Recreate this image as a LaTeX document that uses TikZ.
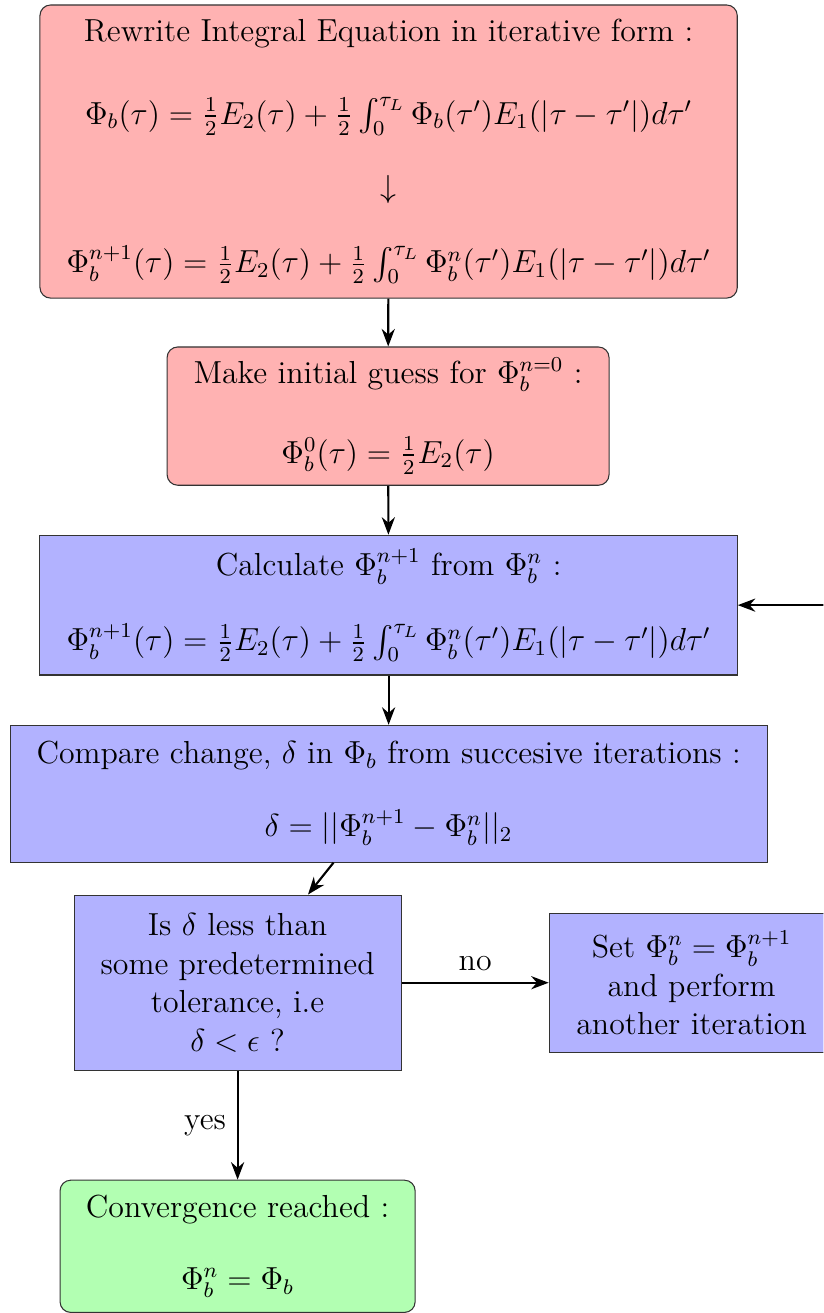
\documentclass[tikz,border=0pt,12pt]{standalone}
\usepackage{amsmath}
\usepackage{amssymb}
\usepackage{tikz}
\usetikzlibrary{arrows.meta, positioning, calc}

\begin{document}
\begin{tikzpicture}[
      roundbox/.style={rectangle, rounded corners, draw=black!80, fill=red!30,
                   align=center, inner sep=2pt},
      procbox/.style={rectangle, draw=black!80, fill=blue!30, align=center, inner sep=2pt},
      endbox/.style={rectangle, rounded corners, draw=black!80, fill=green!30,
                   align=center, inner sep=2pt},
      arrow/.style={-{Stealth}, thick}
    ]
    \useasboundingbox (0,0) rectangle (10.90,-17.38);
    \clip (0,0) rectangle (10.90,-17.38);

    \node[roundbox, minimum width=9.23cm, minimum height=3.88cm] (rewrite) at (5.144,-2.006)
      {Rewrite Integral Equation in iterative form :\\[16.5pt]
       $\Phi_b(\tau) = \frac{1}{2}E_2(\tau) + \frac{1}{2}\int_0^{\tau_L}\Phi_b(\tau')E_1(|\tau-\tau'|)d\tau'$\\[13.2pt]
       $\downarrow$\\[13.8pt]
       $\Phi_b^{n+1}(\tau) = \frac{1}{2}E_2(\tau) + \frac{1}{2}\int_0^{\tau_L}\Phi_b^n(\tau')E_1(|\tau-\tau'|)d\tau'$};
    \node[roundbox, minimum width=5.85cm, minimum height=1.83cm] (guess) at (5.137,-5.508)
      {Make initial guess for $\Phi_b^{n=0}$ :\\[15.5pt]
       $\Phi_b^0(\tau) = \frac{1}{2}E_2(\tau)$};
    \node[procbox, minimum width=9.23cm, minimum height=1.85cm] (calc) at (5.144,-8.010)
      {Calculate $\Phi_b^{n+1}$ from $\Phi_b^n$ :\\[14pt]
       $\Phi_b^{n+1}(\tau) = \frac{1}{2}E_2(\tau) + \frac{1}{2}\int_0^{\tau_L}\Phi_b^n(\tau')E_1(|\tau-\tau'|)d\tau'$};
    \node[procbox, minimum width=10.02cm, minimum height=1.81cm] (compare) at (5.144,-10.506)
      {Compare change, $\delta$ in $\Phi_b$ from succesive iterations :\\[13pt]
       $\delta = ||\Phi_b^{n+1} - \Phi_b^n||_2$};
    \node[procbox, minimum width=4.33cm, minimum height=2.32cm] (test) at (3.145,-13.008)
      {Is $\delta$ less than\\some predetermined\\tolerance, i.e\\$\delta < \epsilon$ ?};
    \node[procbox, minimum width=3.77cm, minimum height=1.84cm] (update) at (9.155,-13.008)
      {Set $\Phi_b^n = \Phi_b^{n+1}$\\and perform\\another iteration};
    \node[endbox, minimum width=4.70cm, minimum height=1.75cm] (done) at (3.145,-16.497)
      {Convergence reached :\\[12.5pt]
       $\Phi_b^n = \Phi_b$};

    \draw[arrow] (rewrite) -- (guess);
    \draw[arrow] (guess) -- (calc);
    \draw[arrow] (calc) -- (compare);
    \draw[arrow] (compare) -- (test);
    \draw[arrow] (test) -- node[above] {no} (update);
    \draw[arrow] (test) -- node[left] {yes} (done);
    \draw[arrow] (update.east) -- ++(0.6,0) |- (calc.east);
  \end{tikzpicture}
\end{document}
